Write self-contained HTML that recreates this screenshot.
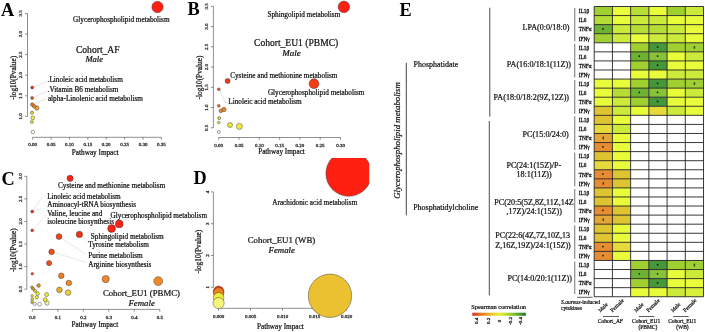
<!DOCTYPE html><html><head><meta charset="utf-8"><style>html,body{margin:0;padding:0;background:#fff;width:705px;height:332px;overflow:hidden}svg{display:block;will-change:transform}text{font-family:"Liberation Serif",serif}</style></head><body>
<svg width="705" height="332" viewBox="0 0 705 332">
<rect width="705" height="332" fill="#fff"/>
<text x="1" y="15.9" font-size="18.3" text-anchor="start" font-weight="bold" fill="#000" stroke="#000" stroke-width="0">A</text>
<line x1="27.5" y1="13.400000000000006" x2="27.5" y2="116.4" stroke="#444" stroke-width="0.6"/>
<line x1="25.0" y1="116.4" x2="27.5" y2="116.4" stroke="#444" stroke-width="0.6"/>
<text x="21.8" y="116.4" font-size="5.0" text-anchor="middle" fill="#333" stroke="#333" stroke-width="0.32" transform="rotate(-90 21.8 116.4)">1.0</text>
<line x1="25.0" y1="95.80000000000001" x2="27.5" y2="95.80000000000001" stroke="#444" stroke-width="0.6"/>
<text x="21.8" y="95.80000000000001" font-size="5.0" text-anchor="middle" fill="#333" stroke="#333" stroke-width="0.32" transform="rotate(-90 21.8 95.80000000000001)">1.5</text>
<line x1="25.0" y1="75.2" x2="27.5" y2="75.2" stroke="#444" stroke-width="0.6"/>
<text x="21.8" y="75.2" font-size="5.0" text-anchor="middle" fill="#333" stroke="#333" stroke-width="0.32" transform="rotate(-90 21.8 75.2)">2.0</text>
<line x1="25.0" y1="54.6" x2="27.5" y2="54.6" stroke="#444" stroke-width="0.6"/>
<text x="21.8" y="54.6" font-size="5.0" text-anchor="middle" fill="#333" stroke="#333" stroke-width="0.32" transform="rotate(-90 21.8 54.6)">2.5</text>
<line x1="25.0" y1="34.0" x2="27.5" y2="34.0" stroke="#444" stroke-width="0.6"/>
<text x="21.8" y="34.0" font-size="5.0" text-anchor="middle" fill="#333" stroke="#333" stroke-width="0.32" transform="rotate(-90 21.8 34.0)">3.0</text>
<line x1="25.0" y1="13.400000000000006" x2="27.5" y2="13.400000000000006" stroke="#444" stroke-width="0.6"/>
<text x="21.8" y="13.400000000000006" font-size="5.0" text-anchor="middle" fill="#333" stroke="#333" stroke-width="0.32" transform="rotate(-90 21.8 13.400000000000006)">3.5</text>
<text x="15.6" y="77.8" font-size="7.3" text-anchor="middle" fill="#111" stroke="#111" stroke-width="0.22" transform="rotate(-90 15.6 77.8)">-log10(Pvalue)</text>
<line x1="32.6" y1="137.3" x2="161.39999999999998" y2="137.3" stroke="#444" stroke-width="0.6"/>
<line x1="32.6" y1="137.3" x2="32.6" y2="139.60000000000002" stroke="#444" stroke-width="0.6"/>
<text x="32.6" y="146.3" font-size="5.0" text-anchor="middle" fill="#333" stroke="#333" stroke-width="0.32">0.00</text>
<line x1="51.0" y1="137.3" x2="51.0" y2="139.60000000000002" stroke="#444" stroke-width="0.6"/>
<text x="51.0" y="146.3" font-size="5.0" text-anchor="middle" fill="#333" stroke="#333" stroke-width="0.32">0.05</text>
<line x1="69.4" y1="137.3" x2="69.4" y2="139.60000000000002" stroke="#444" stroke-width="0.6"/>
<text x="69.4" y="146.3" font-size="5.0" text-anchor="middle" fill="#333" stroke="#333" stroke-width="0.32">0.10</text>
<line x1="87.8" y1="137.3" x2="87.8" y2="139.60000000000002" stroke="#444" stroke-width="0.6"/>
<text x="87.8" y="146.3" font-size="5.0" text-anchor="middle" fill="#333" stroke="#333" stroke-width="0.32">0.15</text>
<line x1="106.19999999999999" y1="137.3" x2="106.19999999999999" y2="139.60000000000002" stroke="#444" stroke-width="0.6"/>
<text x="106.19999999999999" y="146.3" font-size="5.0" text-anchor="middle" fill="#333" stroke="#333" stroke-width="0.32">0.20</text>
<line x1="124.6" y1="137.3" x2="124.6" y2="139.60000000000002" stroke="#444" stroke-width="0.6"/>
<text x="124.6" y="146.3" font-size="5.0" text-anchor="middle" fill="#333" stroke="#333" stroke-width="0.32">0.25</text>
<line x1="143.0" y1="137.3" x2="143.0" y2="139.60000000000002" stroke="#444" stroke-width="0.6"/>
<text x="143.0" y="146.3" font-size="5.0" text-anchor="middle" fill="#333" stroke="#333" stroke-width="0.32">0.30</text>
<line x1="161.39999999999998" y1="137.3" x2="161.39999999999998" y2="139.60000000000002" stroke="#444" stroke-width="0.6"/>
<text x="161.39999999999998" y="146.3" font-size="5.0" text-anchor="middle" fill="#333" stroke="#333" stroke-width="0.32">0.35</text>
<text x="95.2" y="155.0" font-size="7.22" text-anchor="middle" fill="#111" stroke="#111" stroke-width="0.22">Pathway Impact</text>
<line x1="32.2" y1="87.5" x2="47.6" y2="81.2" stroke="#bbb" stroke-width="0.4"/>
<line x1="32.1" y1="97.9" x2="47.6" y2="90.8" stroke="#bbb" stroke-width="0.4"/>
<line x1="33" y1="104" x2="46.8" y2="98.6" stroke="#bbb" stroke-width="0.4"/>
<circle cx="157.5" cy="7" r="5.7" fill="#FE2112" stroke="#333" stroke-width="0.45"/>
<circle cx="32.8" cy="132" r="1.8" fill="#FAFAE0" stroke="#333" stroke-width="0.45"/>
<circle cx="31.9" cy="122" r="1.5" fill="#F2EC38" stroke="#333" stroke-width="0.45"/>
<circle cx="32.8" cy="117.8" r="1.9" fill="#F2EC38" stroke="#333" stroke-width="0.45"/>
<circle cx="32" cy="112.7" r="1.6" fill="#EAD234" stroke="#333" stroke-width="0.45"/>
<circle cx="36.8" cy="108" r="2.2" fill="#F2A22C" stroke="#333" stroke-width="0.45"/>
<circle cx="34.2" cy="106.3" r="1.8" fill="#F08A28" stroke="#333" stroke-width="0.45"/>
<circle cx="32.2" cy="104.5" r="1.7" fill="#EE7424" stroke="#333" stroke-width="0.45"/>
<circle cx="32.1" cy="97.9" r="1.5" fill="#EE5520" stroke="#333" stroke-width="0.45"/>
<circle cx="32.2" cy="87.5" r="1.5" fill="#F2361A" stroke="#333" stroke-width="0.45"/>
<text x="73.1" y="21.7" font-size="7.22" text-anchor="start" fill="#111" stroke="#111" stroke-width="0.22">Glycerophospholipid metabolism</text>
<text x="75.9" y="52.6" font-size="9.6" text-anchor="start" fill="#111" stroke="#111" stroke-width="0.22">Cohort_AF</text>
<text x="85.4" y="62.3" font-size="8.6" text-anchor="start" font-style="italic" fill="#111" stroke="#111" stroke-width="0.22">Male</text>
<text x="47.6" y="82.3" font-size="7.22" text-anchor="start" fill="#111" stroke="#111" stroke-width="0.22">.Linoleic acid metabolism</text>
<text x="47.6" y="91.8" font-size="7.22" text-anchor="start" fill="#111" stroke="#111" stroke-width="0.22">.Vitamin B6 metabolism</text>
<text x="47.9" y="100.6" font-size="7.22" text-anchor="start" fill="#111" stroke="#111" stroke-width="0.22">alpha-Linolenic acid metabolism</text>
<text x="187.5" y="15.4" font-size="18.3" text-anchor="start" font-weight="bold" fill="#000" stroke="#000" stroke-width="0">B</text>
<line x1="213.4" y1="6.299999999999997" x2="213.4" y2="127.8" stroke="#444" stroke-width="0.6"/>
<line x1="210.9" y1="127.8" x2="213.4" y2="127.8" stroke="#444" stroke-width="0.6"/>
<text x="207.8" y="127.8" font-size="5.0" text-anchor="middle" fill="#333" stroke="#333" stroke-width="0.32" transform="rotate(-90 207.8 127.8)">0.5</text>
<line x1="210.9" y1="107.55" x2="213.4" y2="107.55" stroke="#444" stroke-width="0.6"/>
<text x="207.8" y="107.55" font-size="5.0" text-anchor="middle" fill="#333" stroke="#333" stroke-width="0.32" transform="rotate(-90 207.8 107.55)">1.0</text>
<line x1="210.9" y1="87.3" x2="213.4" y2="87.3" stroke="#444" stroke-width="0.6"/>
<text x="207.8" y="87.3" font-size="5.0" text-anchor="middle" fill="#333" stroke="#333" stroke-width="0.32" transform="rotate(-90 207.8 87.3)">1.5</text>
<line x1="210.9" y1="67.05" x2="213.4" y2="67.05" stroke="#444" stroke-width="0.6"/>
<text x="207.8" y="67.05" font-size="5.0" text-anchor="middle" fill="#333" stroke="#333" stroke-width="0.32" transform="rotate(-90 207.8 67.05)">2.0</text>
<line x1="210.9" y1="46.8" x2="213.4" y2="46.8" stroke="#444" stroke-width="0.6"/>
<text x="207.8" y="46.8" font-size="5.0" text-anchor="middle" fill="#333" stroke="#333" stroke-width="0.32" transform="rotate(-90 207.8 46.8)">2.5</text>
<line x1="210.9" y1="26.549999999999997" x2="213.4" y2="26.549999999999997" stroke="#444" stroke-width="0.6"/>
<text x="207.8" y="26.549999999999997" font-size="5.0" text-anchor="middle" fill="#333" stroke="#333" stroke-width="0.32" transform="rotate(-90 207.8 26.549999999999997)">3.0</text>
<line x1="210.9" y1="6.299999999999997" x2="213.4" y2="6.299999999999997" stroke="#444" stroke-width="0.6"/>
<text x="207.8" y="6.299999999999997" font-size="5.0" text-anchor="middle" fill="#333" stroke="#333" stroke-width="0.32" transform="rotate(-90 207.8 6.299999999999997)">3.5</text>
<text x="201.6" y="77.5" font-size="7.3" text-anchor="middle" fill="#111" stroke="#111" stroke-width="0.22" transform="rotate(-90 201.6 77.5)">-log10(Pvalue)</text>
<line x1="218.7" y1="137.5" x2="340.5" y2="137.5" stroke="#444" stroke-width="0.6"/>
<line x1="218.7" y1="137.5" x2="218.7" y2="139.8" stroke="#444" stroke-width="0.6"/>
<text x="218.7" y="146.9" font-size="5.0" text-anchor="middle" fill="#333" stroke="#333" stroke-width="0.32">0.00</text>
<line x1="239.0" y1="137.5" x2="239.0" y2="139.8" stroke="#444" stroke-width="0.6"/>
<text x="239.0" y="146.9" font-size="5.0" text-anchor="middle" fill="#333" stroke="#333" stroke-width="0.32">0.05</text>
<line x1="259.3" y1="137.5" x2="259.3" y2="139.8" stroke="#444" stroke-width="0.6"/>
<text x="259.3" y="146.9" font-size="5.0" text-anchor="middle" fill="#333" stroke="#333" stroke-width="0.32">0.10</text>
<line x1="279.6" y1="137.5" x2="279.6" y2="139.8" stroke="#444" stroke-width="0.6"/>
<text x="279.6" y="146.9" font-size="5.0" text-anchor="middle" fill="#333" stroke="#333" stroke-width="0.32">0.15</text>
<line x1="299.9" y1="137.5" x2="299.9" y2="139.8" stroke="#444" stroke-width="0.6"/>
<text x="299.9" y="146.9" font-size="5.0" text-anchor="middle" fill="#333" stroke="#333" stroke-width="0.32">0.20</text>
<line x1="320.2" y1="137.5" x2="320.2" y2="139.8" stroke="#444" stroke-width="0.6"/>
<text x="320.2" y="146.9" font-size="5.0" text-anchor="middle" fill="#333" stroke="#333" stroke-width="0.32">0.25</text>
<line x1="340.5" y1="137.5" x2="340.5" y2="139.8" stroke="#444" stroke-width="0.6"/>
<text x="340.5" y="146.9" font-size="5.0" text-anchor="middle" fill="#333" stroke="#333" stroke-width="0.32">0.30</text>
<text x="281.5" y="154.4" font-size="7.22" text-anchor="middle" fill="#111" stroke="#111" stroke-width="0.22">Pathway Impact</text>
<line x1="219.8" y1="91.0" x2="225.4" y2="102.2" stroke="#bbb" stroke-width="0.4"/>
<circle cx="343.9" cy="6.9" r="5.8" fill="#FE2112" stroke="#333" stroke-width="0.45"/>
<circle cx="314" cy="83.7" r="4.9" fill="#F23A14" stroke="#333" stroke-width="0.45"/>
<circle cx="218.8" cy="131.9" r="1.5" fill="#FAFAE0" stroke="#333" stroke-width="0.45"/>
<circle cx="239.4" cy="126.4" r="3" fill="#F2EC38" stroke="#333" stroke-width="0.45"/>
<circle cx="230" cy="125" r="2.5" fill="#F2EC38" stroke="#333" stroke-width="0.45"/>
<circle cx="218.8" cy="122.5" r="1.3" fill="#F2EC38" stroke="#333" stroke-width="0.45"/>
<circle cx="219.2" cy="118.1" r="1.5" fill="#F0C834" stroke="#333" stroke-width="0.45"/>
<circle cx="223.9" cy="109.5" r="2.2" fill="#F08A28" stroke="#333" stroke-width="0.45"/>
<circle cx="220.8" cy="110.9" r="1.8" fill="#F08A28" stroke="#333" stroke-width="0.45"/>
<circle cx="218.8" cy="105.8" r="1.4" fill="#EE6A22" stroke="#333" stroke-width="0.45"/>
<circle cx="218.8" cy="89.3" r="1.4" fill="#EE5520" stroke="#333" stroke-width="0.45"/>
<circle cx="227.6" cy="80.9" r="2.5" fill="#F2361A" stroke="#333" stroke-width="0.45"/>
<text x="267.5" y="16.6" font-size="7.22" text-anchor="start" fill="#111" stroke="#111" stroke-width="0.22">Sphingolipid metabolism</text>
<text x="254" y="45.8" font-size="9.57" text-anchor="start" fill="#111" stroke="#111" stroke-width="0.22">Cohort_EU1 (PBMC)</text>
<text x="282.3" y="55.8" font-size="9.0" text-anchor="start" font-style="italic" fill="#111" stroke="#111" stroke-width="0.22">Male</text>
<text x="230.2" y="77.7" font-size="7.22" text-anchor="start" fill="#111" stroke="#111" stroke-width="0.22">Cysteine and methionine metabolism</text>
<text x="267.9" y="94.8" font-size="7.22" text-anchor="start" fill="#111" stroke="#111" stroke-width="0.22">Glycerophospholipid metabolism</text>
<text x="228.3" y="104.2" font-size="7.22" text-anchor="start" fill="#111" stroke="#111" stroke-width="0.22">Linoleic acid metabolism</text>
<circle cx="225.4" cy="102.4" r="0.45" fill="#666"/>
<text x="1.4" y="184.9" font-size="18.3" text-anchor="start" font-weight="bold" fill="#000" stroke="#000" stroke-width="0">C</text>
<line x1="26.8" y1="176.3" x2="26.8" y2="289.2" stroke="#444" stroke-width="0.6"/>
<line x1="24.3" y1="289.2" x2="26.8" y2="289.2" stroke="#444" stroke-width="0.6"/>
<text x="21.6" y="289.2" font-size="5.0" text-anchor="middle" fill="#333" stroke="#333" stroke-width="0.32" transform="rotate(-90 21.6 289.2)">0.5</text>
<line x1="24.3" y1="266.62" x2="26.8" y2="266.62" stroke="#444" stroke-width="0.6"/>
<text x="21.6" y="266.62" font-size="5.0" text-anchor="middle" fill="#333" stroke="#333" stroke-width="0.32" transform="rotate(-90 21.6 266.62)">1.0</text>
<line x1="24.3" y1="244.04" x2="26.8" y2="244.04" stroke="#444" stroke-width="0.6"/>
<text x="21.6" y="244.04" font-size="5.0" text-anchor="middle" fill="#333" stroke="#333" stroke-width="0.32" transform="rotate(-90 21.6 244.04)">1.5</text>
<line x1="24.3" y1="221.45999999999998" x2="26.8" y2="221.45999999999998" stroke="#444" stroke-width="0.6"/>
<text x="21.6" y="221.45999999999998" font-size="5.0" text-anchor="middle" fill="#333" stroke="#333" stroke-width="0.32" transform="rotate(-90 21.6 221.45999999999998)">2.0</text>
<line x1="24.3" y1="198.88" x2="26.8" y2="198.88" stroke="#444" stroke-width="0.6"/>
<text x="21.6" y="198.88" font-size="5.0" text-anchor="middle" fill="#333" stroke="#333" stroke-width="0.32" transform="rotate(-90 21.6 198.88)">2.5</text>
<line x1="24.3" y1="176.3" x2="26.8" y2="176.3" stroke="#444" stroke-width="0.6"/>
<text x="21.6" y="176.3" font-size="5.0" text-anchor="middle" fill="#333" stroke="#333" stroke-width="0.32" transform="rotate(-90 21.6 176.3)">3.0</text>
<text x="15.6" y="250.2" font-size="7.3" text-anchor="middle" fill="#111" stroke="#111" stroke-width="0.22" transform="rotate(-90 15.6 250.2)">-log10(Pvalue)</text>
<line x1="32.3" y1="309.4" x2="159.8" y2="309.4" stroke="#444" stroke-width="0.6"/>
<line x1="32.3" y1="309.4" x2="32.3" y2="311.7" stroke="#444" stroke-width="0.6"/>
<text x="32.3" y="318.6" font-size="5.0" text-anchor="middle" fill="#333" stroke="#333" stroke-width="0.32">0.0</text>
<line x1="57.8" y1="309.4" x2="57.8" y2="311.7" stroke="#444" stroke-width="0.6"/>
<text x="57.8" y="318.6" font-size="5.0" text-anchor="middle" fill="#333" stroke="#333" stroke-width="0.32">0.1</text>
<line x1="83.3" y1="309.4" x2="83.3" y2="311.7" stroke="#444" stroke-width="0.6"/>
<text x="83.3" y="318.6" font-size="5.0" text-anchor="middle" fill="#333" stroke="#333" stroke-width="0.32">0.2</text>
<line x1="108.8" y1="309.4" x2="108.8" y2="311.7" stroke="#444" stroke-width="0.6"/>
<text x="108.8" y="318.6" font-size="5.0" text-anchor="middle" fill="#333" stroke="#333" stroke-width="0.32">0.3</text>
<line x1="134.3" y1="309.4" x2="134.3" y2="311.7" stroke="#444" stroke-width="0.6"/>
<text x="134.3" y="318.6" font-size="5.0" text-anchor="middle" fill="#333" stroke="#333" stroke-width="0.32">0.4</text>
<line x1="159.8" y1="309.4" x2="159.8" y2="311.7" stroke="#444" stroke-width="0.6"/>
<text x="159.8" y="318.6" font-size="5.0" text-anchor="middle" fill="#333" stroke="#333" stroke-width="0.32">0.5</text>
<text x="94.9" y="327.1" font-size="7.22" text-anchor="middle" fill="#111" stroke="#111" stroke-width="0.22">Pathway Impact</text>
<line x1="32.2" y1="211.6" x2="42.8" y2="196.3" stroke="#c4c4c4" stroke-width="0.4"/>
<line x1="32.2" y1="211.6" x2="41.6" y2="208.3" stroke="#c4c4c4" stroke-width="0.4"/>
<line x1="32.2" y1="230.4" x2="46.1" y2="214.7" stroke="#c4c4c4" stroke-width="0.4"/>
<line x1="79.4" y1="234.4" x2="87.5" y2="243" stroke="#c4c4c4" stroke-width="0.4"/>
<line x1="59" y1="236.6" x2="86" y2="254.5" stroke="#c4c4c4" stroke-width="0.4"/>
<line x1="51.6" y1="251.8" x2="86.5" y2="262.5" stroke="#c4c4c4" stroke-width="0.4"/>
<line x1="111.6" y1="228.5" x2="128" y2="218" stroke="#c4c4c4" stroke-width="0.4"/>
<circle cx="47" cy="303" r="2.2" fill="#F4F4A8" stroke="#333" stroke-width="0.45"/>
<circle cx="45.2" cy="299.7" r="2" fill="#F2EC38" stroke="#333" stroke-width="0.45"/>
<circle cx="46.6" cy="294.6" r="2" fill="#F2EC38" stroke="#333" stroke-width="0.45"/>
<circle cx="39.6" cy="304.2" r="1.9" fill="#FFFFFF" stroke="#333" stroke-width="0.45"/>
<circle cx="34.8" cy="303.9" r="1.6" fill="#FFFFFF" stroke="#333" stroke-width="0.45"/>
<circle cx="32.2" cy="302.6" r="1.2" fill="#F2EC38" stroke="#333" stroke-width="0.45"/>
<circle cx="32.1" cy="301.2" r="1.2" fill="#F2EC38" stroke="#333" stroke-width="0.45"/>
<circle cx="32.3" cy="299" r="1.3" fill="#F2EC38" stroke="#333" stroke-width="0.45"/>
<circle cx="32.1" cy="295.8" r="1.3" fill="#F2EC38" stroke="#333" stroke-width="0.45"/>
<circle cx="36.8" cy="297.3" r="1.7" fill="#F2EC38" stroke="#333" stroke-width="0.45"/>
<circle cx="37.6" cy="293.6" r="1.8" fill="#F2EC38" stroke="#333" stroke-width="0.45"/>
<circle cx="35" cy="290.8" r="1.6" fill="#F0C834" stroke="#333" stroke-width="0.45"/>
<circle cx="33" cy="288.6" r="1.5" fill="#F2A22C" stroke="#333" stroke-width="0.45"/>
<circle cx="31.9" cy="287.2" r="1.3" fill="#F2A22C" stroke="#333" stroke-width="0.45"/>
<circle cx="68.1" cy="292.6" r="2.8" fill="#F0D034" stroke="#333" stroke-width="0.45"/>
<circle cx="59.4" cy="289.9" r="2.8" fill="#EEB02C" stroke="#333" stroke-width="0.45"/>
<circle cx="38.6" cy="285.6" r="1.8" fill="#F08A28" stroke="#333" stroke-width="0.45"/>
<circle cx="68.8" cy="283" r="2.8" fill="#F08A28" stroke="#333" stroke-width="0.45"/>
<circle cx="158.2" cy="281.1" r="4.4" fill="#F08A28" stroke="#333" stroke-width="0.45"/>
<circle cx="105.7" cy="279.1" r="3.6" fill="#F08A28" stroke="#333" stroke-width="0.45"/>
<circle cx="61.3" cy="275.7" r="2.8" fill="#EE7A26" stroke="#333" stroke-width="0.45"/>
<circle cx="32.3" cy="273.8" r="1.3" fill="#EE5520" stroke="#333" stroke-width="0.45"/>
<circle cx="49.1" cy="263.1" r="2.6" fill="#EE501A" stroke="#333" stroke-width="0.45"/>
<circle cx="51.6" cy="251.8" r="2.8" fill="#EE4A1A" stroke="#333" stroke-width="0.45"/>
<circle cx="59" cy="236.6" r="2.9" fill="#EE4218" stroke="#333" stroke-width="0.45"/>
<circle cx="79.4" cy="234.4" r="3.2" fill="#EE3314" stroke="#333" stroke-width="0.45"/>
<circle cx="32.2" cy="230.4" r="1.4" fill="#F2361A" stroke="#333" stroke-width="0.45"/>
<circle cx="32.2" cy="211.6" r="1.5" fill="#F2361A" stroke="#333" stroke-width="0.45"/>
<circle cx="111.6" cy="228.5" r="3.9" fill="#FE2112" stroke="#333" stroke-width="0.45"/>
<circle cx="119.2" cy="223.9" r="3.9" fill="#FE2112" stroke="#333" stroke-width="0.45"/>
<circle cx="70.1" cy="178.3" r="3.1" fill="#FE2112" stroke="#333" stroke-width="0.45"/>
<text x="58" y="188.0" font-size="7.22" text-anchor="start" fill="#111" stroke="#111" stroke-width="0.22">Cysteine and methionine metabolism</text>
<text x="47.2" y="198.5" font-size="7.22" text-anchor="start" fill="#111" stroke="#111" stroke-width="0.22">Linoleic acid metabolism</text>
<text x="47.2" y="207.3" font-size="7.22" text-anchor="start" fill="#111" stroke="#111" stroke-width="0.22">Aminoacyl-tRNA biosynthesis</text>
<text x="47.2" y="215.6" font-size="7.22" text-anchor="start" fill="#111" stroke="#111" stroke-width="0.22">Valine, leucine and</text>
<text x="47.2" y="224.4" font-size="7.22" text-anchor="start" fill="#111" stroke="#111" stroke-width="0.22">isoleucine biosynthesis</text>
<text x="110.6" y="217.5" font-size="7.22" text-anchor="start" fill="#111" stroke="#111" stroke-width="0.22">Glycerophospholipid metabolism</text>
<text x="90.8" y="238.9" font-size="7.22" text-anchor="start" fill="#111" stroke="#111" stroke-width="0.22">Sphingolipid metabolism</text>
<text x="88.3" y="247.2" font-size="7.22" text-anchor="start" fill="#111" stroke="#111" stroke-width="0.22">Tyrosine metabolism</text>
<text x="88.3" y="258.0" font-size="7.22" text-anchor="start" fill="#111" stroke="#111" stroke-width="0.22">Purine metabolism</text>
<text x="88.3" y="266.8" font-size="7.22" text-anchor="start" fill="#111" stroke="#111" stroke-width="0.22">Arginine biosynthesis</text>
<text x="102.9" y="296" font-size="8.75" text-anchor="start" fill="#111" stroke="#111" stroke-width="0.22">Cohort_EU1 (PBMC)</text>
<text x="128.4" y="305.5" font-size="8.85" text-anchor="start" font-style="italic" fill="#111" stroke="#111" stroke-width="0.22">Female</text>
<text x="193.6" y="184.3" font-size="18.3" text-anchor="start" font-weight="bold" fill="#000" stroke="#000" stroke-width="0">D</text>
<line x1="213.4" y1="191.9" x2="213.4" y2="287.3" stroke="#444" stroke-width="0.6"/>
<line x1="210.9" y1="287.3" x2="213.4" y2="287.3" stroke="#444" stroke-width="0.6"/>
<text x="209.3" y="287.3" font-size="5.0" text-anchor="middle" fill="#333" stroke="#333" stroke-width="0.32" transform="rotate(-90 209.3 287.3)">1</text>
<line x1="210.9" y1="255.5" x2="213.4" y2="255.5" stroke="#444" stroke-width="0.6"/>
<text x="209.3" y="255.5" font-size="5.0" text-anchor="middle" fill="#333" stroke="#333" stroke-width="0.32" transform="rotate(-90 209.3 255.5)">2</text>
<line x1="210.9" y1="223.70000000000002" x2="213.4" y2="223.70000000000002" stroke="#444" stroke-width="0.6"/>
<text x="209.3" y="223.70000000000002" font-size="5.0" text-anchor="middle" fill="#333" stroke="#333" stroke-width="0.32" transform="rotate(-90 209.3 223.70000000000002)">3</text>
<line x1="210.9" y1="191.9" x2="213.4" y2="191.9" stroke="#444" stroke-width="0.6"/>
<text x="209.3" y="191.9" font-size="5.0" text-anchor="middle" fill="#333" stroke="#333" stroke-width="0.32" transform="rotate(-90 209.3 191.9)">4</text>
<text x="201.5" y="251.6" font-size="7.3" text-anchor="middle" fill="#111" stroke="#111" stroke-width="0.22" transform="rotate(-90 201.5 251.6)">-log10(Pvalue)</text>
<line x1="218.5" y1="308.3" x2="346.5" y2="308.3" stroke="#444" stroke-width="0.6"/>
<line x1="218.5" y1="308.3" x2="218.5" y2="310.6" stroke="#444" stroke-width="0.6"/>
<text x="218.5" y="318.3" font-size="5.0" text-anchor="middle" fill="#333" stroke="#333" stroke-width="0.32">0.000</text>
<line x1="250.5" y1="308.3" x2="250.5" y2="310.6" stroke="#444" stroke-width="0.6"/>
<text x="250.5" y="318.3" font-size="5.0" text-anchor="middle" fill="#333" stroke="#333" stroke-width="0.32">0.005</text>
<line x1="282.5" y1="308.3" x2="282.5" y2="310.6" stroke="#444" stroke-width="0.6"/>
<text x="282.5" y="318.3" font-size="5.0" text-anchor="middle" fill="#333" stroke="#333" stroke-width="0.32">0.010</text>
<line x1="314.5" y1="308.3" x2="314.5" y2="310.6" stroke="#444" stroke-width="0.6"/>
<text x="314.5" y="318.3" font-size="5.0" text-anchor="middle" fill="#333" stroke="#333" stroke-width="0.32">0.015</text>
<line x1="346.5" y1="308.3" x2="346.5" y2="310.6" stroke="#444" stroke-width="0.6"/>
<text x="346.5" y="318.3" font-size="5.0" text-anchor="middle" fill="#333" stroke="#333" stroke-width="0.32">0.020</text>
<text x="280.4" y="328.5" font-size="7.22" text-anchor="middle" fill="#111" stroke="#111" stroke-width="0.22">Pathway Impact</text>
<clipPath id="dclip"><rect x="213" y="158.1" width="156.2" height="160"/></clipPath>
<g clip-path="url(#dclip)">
<circle cx="348.7" cy="173.5" r="22.8" fill="#FE2112" stroke="#333" stroke-width="0.45"/>
</g>
<circle cx="330" cy="295.8" r="21.7" fill="#EBC132" stroke="#333" stroke-width="0.45"/>
<circle cx="218.6" cy="291.3" r="5.3" fill="#EE3A16" stroke="#333" stroke-width="0.45"/>
<circle cx="218.6" cy="292.9" r="5.3" fill="#F0801E" stroke="#333" stroke-width="0.45"/>
<circle cx="218.6" cy="297.8" r="5.3" fill="#F0EC38" stroke="#333" stroke-width="0.45"/>
<circle cx="218.6" cy="303.1" r="5.6" fill="#F4F47A" stroke="#333" stroke-width="0.45"/>
<text x="272.3" y="204.5" font-size="7.22" text-anchor="start" fill="#111" stroke="#111" stroke-width="0.22">Arachidonic acid metabolism</text>
<text x="247.7" y="242.7" font-size="8.86" text-anchor="start" fill="#111" stroke="#111" stroke-width="0.22">Cohort_EU1 (WB)</text>
<text x="268.6" y="252.7" font-size="8.8" text-anchor="start" font-style="italic" fill="#111" stroke="#111" stroke-width="0.22">Female</text>
<text x="399.4" y="15.7" font-size="18.3" text-anchor="start" font-weight="bold" fill="#000" stroke="#000" stroke-width="0">E</text>
<text x="399.7" y="140.5" font-size="8.8" text-anchor="middle" font-style="italic" fill="#111" stroke="#111" stroke-width="0.22" transform="rotate(-90 399.7 140.5)">Glycerophospholipid metabolism</text>
<line x1="406.3" y1="62.9" x2="406.3" y2="215.4" stroke="#222" stroke-width="0.85"/>
<text x="413.5" y="66.7" font-size="7.97" text-anchor="start" fill="#111" stroke="#111" stroke-width="0.22">Phosphatidate</text>
<text x="413.2" y="210.4" font-size="7.97" text-anchor="start" fill="#111" stroke="#111" stroke-width="0.22">Phosphatidylcholine</text>
<line x1="489.8" y1="7.7" x2="489.8" y2="116.6" stroke="#3a3a3a" stroke-width="0.9"/>
<line x1="489.3" y1="121" x2="489.3" y2="295.4" stroke="#3a3a3a" stroke-width="0.9"/>
<text x="522.5" y="29.8" font-size="8.1" text-anchor="start" fill="#111" stroke="#111" stroke-width="0.22">LPA(0:0/18:0)</text>
<text x="506.8" y="66.5" font-size="8.1" text-anchor="start" fill="#111" stroke="#111" stroke-width="0.22">PA(16:0/18:1(11Z))</text>
<text x="493.6" y="100.2" font-size="8.1" text-anchor="start" fill="#111" stroke="#111" stroke-width="0.22">PA(18:0/18:2(9Z,12Z))</text>
<text x="522.5" y="137" font-size="8.1" text-anchor="start" fill="#111" stroke="#111" stroke-width="0.22">PC(15:0/24:0)</text>
<text x="506.4" y="167.7" font-size="8.1" text-anchor="start" fill="#111" stroke="#111" stroke-width="0.22">PC(24:1(15Z)/P-</text>
<text x="516.5" y="176.9" font-size="8.1" text-anchor="start" fill="#111" stroke="#111" stroke-width="0.22">18:1(11Z))</text>
<text x="494.3" y="204.7" font-size="8.1" text-anchor="start" fill="#111" stroke="#111" stroke-width="0.22">PC(20:5(5Z,8Z,11Z,14Z</text>
<text x="506.4" y="213.9" font-size="8.1" text-anchor="start" fill="#111" stroke="#111" stroke-width="0.22">,17Z)/24:1(15Z))</text>
<text x="495.3" y="238.4" font-size="8.1" text-anchor="start" fill="#111" stroke="#111" stroke-width="0.22">PC(22:6(4Z,7Z,10Z,13</text>
<text x="495.3" y="248" font-size="8.1" text-anchor="start" fill="#111" stroke="#111" stroke-width="0.22">Z,16Z,19Z)/24:1(15Z))</text>
<text x="507.4" y="281" font-size="8.1" text-anchor="start" fill="#111" stroke="#111" stroke-width="0.22">PC(14:0/20:1(11Z))</text>
<line x1="574.7" y1="8.1" x2="574.7" y2="41.18" stroke="#8a8a8a" stroke-width="1.2"/>
<line x1="574.7" y1="43.78" x2="574.7" y2="77.46000000000001" stroke="#8a8a8a" stroke-width="1.2"/>
<line x1="574.7" y1="80.06" x2="574.7" y2="113.74000000000001" stroke="#8a8a8a" stroke-width="1.2"/>
<line x1="574.7" y1="116.34" x2="574.7" y2="150.02" stroke="#8a8a8a" stroke-width="1.2"/>
<line x1="574.7" y1="152.62" x2="574.7" y2="186.3" stroke="#8a8a8a" stroke-width="1.2"/>
<line x1="574.7" y1="188.9" x2="574.7" y2="222.58" stroke="#8a8a8a" stroke-width="1.2"/>
<line x1="574.7" y1="225.18" x2="574.7" y2="258.86" stroke="#8a8a8a" stroke-width="1.2"/>
<line x1="574.7" y1="261.46000000000004" x2="574.7" y2="293.94" stroke="#8a8a8a" stroke-width="1.2"/>
<text x="578.8" y="13.3" font-size="5.3" text-anchor="start" fill="#111" stroke="#111" stroke-width="0.26">IL1β</text>
<text x="578.8" y="22.37" font-size="5.3" text-anchor="start" fill="#111" stroke="#111" stroke-width="0.26">IL6</text>
<text x="578.8" y="31.44" font-size="5.3" text-anchor="start" fill="#111" stroke="#111" stroke-width="0.26">TNFα</text>
<text x="578.8" y="40.51" font-size="5.3" text-anchor="start" fill="#111" stroke="#111" stroke-width="0.26">IFNγ</text>
<text x="578.8" y="49.58" font-size="5.3" text-anchor="start" fill="#111" stroke="#111" stroke-width="0.26">IL1β</text>
<text x="578.8" y="58.65" font-size="5.3" text-anchor="start" fill="#111" stroke="#111" stroke-width="0.26">IL6</text>
<text x="578.8" y="67.72" font-size="5.3" text-anchor="start" fill="#111" stroke="#111" stroke-width="0.26">TNFα</text>
<text x="578.8" y="76.79" font-size="5.3" text-anchor="start" fill="#111" stroke="#111" stroke-width="0.26">IFNγ</text>
<text x="578.8" y="85.86" font-size="5.3" text-anchor="start" fill="#111" stroke="#111" stroke-width="0.26">IL1β</text>
<text x="578.8" y="94.92999999999999" font-size="5.3" text-anchor="start" fill="#111" stroke="#111" stroke-width="0.26">IL6</text>
<text x="578.8" y="104.0" font-size="5.3" text-anchor="start" fill="#111" stroke="#111" stroke-width="0.26">TNFα</text>
<text x="578.8" y="113.07000000000001" font-size="5.3" text-anchor="start" fill="#111" stroke="#111" stroke-width="0.26">IFNγ</text>
<text x="578.8" y="122.14" font-size="5.3" text-anchor="start" fill="#111" stroke="#111" stroke-width="0.26">IL1β</text>
<text x="578.8" y="131.21" font-size="5.3" text-anchor="start" fill="#111" stroke="#111" stroke-width="0.26">IL6</text>
<text x="578.8" y="140.28000000000003" font-size="5.3" text-anchor="start" fill="#111" stroke="#111" stroke-width="0.26">TNFα</text>
<text x="578.8" y="149.35000000000002" font-size="5.3" text-anchor="start" fill="#111" stroke="#111" stroke-width="0.26">IFNγ</text>
<text x="578.8" y="158.42000000000002" font-size="5.3" text-anchor="start" fill="#111" stroke="#111" stroke-width="0.26">IL1β</text>
<text x="578.8" y="167.49" font-size="5.3" text-anchor="start" fill="#111" stroke="#111" stroke-width="0.26">IL6</text>
<text x="578.8" y="176.56" font-size="5.3" text-anchor="start" fill="#111" stroke="#111" stroke-width="0.26">TNFα</text>
<text x="578.8" y="185.63000000000002" font-size="5.3" text-anchor="start" fill="#111" stroke="#111" stroke-width="0.26">IFNγ</text>
<text x="578.8" y="194.70000000000002" font-size="5.3" text-anchor="start" fill="#111" stroke="#111" stroke-width="0.26">IL1β</text>
<text x="578.8" y="203.77" font-size="5.3" text-anchor="start" fill="#111" stroke="#111" stroke-width="0.26">IL6</text>
<text x="578.8" y="212.84000000000003" font-size="5.3" text-anchor="start" fill="#111" stroke="#111" stroke-width="0.26">TNFα</text>
<text x="578.8" y="221.91000000000003" font-size="5.3" text-anchor="start" fill="#111" stroke="#111" stroke-width="0.26">IFNγ</text>
<text x="578.8" y="230.98000000000002" font-size="5.3" text-anchor="start" fill="#111" stroke="#111" stroke-width="0.26">IL1β</text>
<text x="578.8" y="240.05" font-size="5.3" text-anchor="start" fill="#111" stroke="#111" stroke-width="0.26">IL6</text>
<text x="578.8" y="249.12" font-size="5.3" text-anchor="start" fill="#111" stroke="#111" stroke-width="0.26">TNFα</text>
<text x="578.8" y="258.19" font-size="5.3" text-anchor="start" fill="#111" stroke="#111" stroke-width="0.26">IFNγ</text>
<text x="578.8" y="267.26000000000005" font-size="5.3" text-anchor="start" fill="#111" stroke="#111" stroke-width="0.26">IL1β</text>
<text x="578.8" y="276.33000000000004" font-size="5.3" text-anchor="start" fill="#111" stroke="#111" stroke-width="0.26">IL6</text>
<text x="578.8" y="285.40000000000003" font-size="5.3" text-anchor="start" fill="#111" stroke="#111" stroke-width="0.26">TNFα</text>
<text x="578.8" y="294.47" font-size="5.3" text-anchor="start" fill="#111" stroke="#111" stroke-width="0.26">IFNγ</text>
<line x1="577.2" y1="297.3" x2="592.6" y2="297.3" stroke="#333" stroke-width="0.8"/>
<text x="561" y="303.9" font-size="5.65" fill="#111" stroke="#111" stroke-width="0.22"><tspan font-style="italic">S.aureus</tspan>-induced</text>
<text x="561" y="310.4" font-size="5.45" text-anchor="start" fill="#111" stroke="#111" stroke-width="0.22">cytokines</text>
<rect x="594.20" y="6.50" width="18.22" height="9.07" fill="#A0D030"/>
<rect x="612.42" y="6.50" width="18.22" height="9.07" fill="#E8FC3A"/>
<rect x="630.64" y="6.50" width="18.22" height="9.07" fill="#B6DC36"/>
<rect x="648.86" y="6.50" width="18.22" height="9.07" fill="#E8FC3A"/>
<rect x="667.08" y="6.50" width="18.22" height="9.07" fill="#A0D030"/>
<rect x="685.30" y="6.50" width="18.22" height="9.07" fill="#CCEA3A"/>
<rect x="594.20" y="15.57" width="18.22" height="9.07" fill="#B6DC36"/>
<rect x="612.42" y="15.57" width="18.22" height="9.07" fill="#E8FC3A"/>
<rect x="630.64" y="15.57" width="18.22" height="9.07" fill="#CCEA3A"/>
<rect x="648.86" y="15.57" width="18.22" height="9.07" fill="#CCEA3A"/>
<rect x="667.08" y="15.57" width="18.22" height="9.07" fill="#E8FC3A"/>
<rect x="685.30" y="15.57" width="18.22" height="9.07" fill="#E8FC3A"/>
<rect x="594.20" y="24.64" width="18.22" height="9.07" fill="#6EB232"/>
<rect x="612.42" y="24.64" width="18.22" height="9.07" fill="#CCEA3A"/>
<rect x="630.64" y="24.64" width="18.22" height="9.07" fill="#B6DC36"/>
<rect x="648.86" y="24.64" width="18.22" height="9.07" fill="#B6DC36"/>
<rect x="667.08" y="24.64" width="18.22" height="9.07" fill="#CCEA3A"/>
<rect x="685.30" y="24.64" width="18.22" height="9.07" fill="#E8FC3A"/>
<rect x="594.20" y="33.71" width="18.22" height="9.07" fill="#A0D030"/>
<rect x="612.42" y="33.71" width="18.22" height="9.07" fill="#CCEA3A"/>
<rect x="630.64" y="33.71" width="18.22" height="9.07" fill="#E8FC3A"/>
<rect x="648.86" y="33.71" width="18.22" height="9.07" fill="#CCEA3A"/>
<rect x="667.08" y="33.71" width="18.22" height="9.07" fill="#CCEA3A"/>
<rect x="685.30" y="33.71" width="18.22" height="9.07" fill="#E8FC3A"/>
<rect x="594.20" y="42.78" width="18.22" height="9.07" fill="#FFFFFF"/>
<rect x="612.42" y="42.78" width="18.22" height="9.07" fill="#FFFFFF"/>
<rect x="630.64" y="42.78" width="18.22" height="9.07" fill="#A0D030"/>
<rect x="648.86" y="42.78" width="18.22" height="9.07" fill="#46963A"/>
<rect x="667.08" y="42.78" width="18.22" height="9.07" fill="#A0D030"/>
<rect x="685.30" y="42.78" width="18.22" height="9.07" fill="#A0D030"/>
<rect x="594.20" y="51.85" width="18.22" height="9.07" fill="#FFFFFF"/>
<rect x="612.42" y="51.85" width="18.22" height="9.07" fill="#FFFFFF"/>
<rect x="630.64" y="51.85" width="18.22" height="9.07" fill="#6EB232"/>
<rect x="648.86" y="51.85" width="18.22" height="9.07" fill="#88C238"/>
<rect x="667.08" y="51.85" width="18.22" height="9.07" fill="#E8FC3A"/>
<rect x="685.30" y="51.85" width="18.22" height="9.07" fill="#CCEA3A"/>
<rect x="594.20" y="60.92" width="18.22" height="9.07" fill="#FFFFFF"/>
<rect x="612.42" y="60.92" width="18.22" height="9.07" fill="#FFFFFF"/>
<rect x="630.64" y="60.92" width="18.22" height="9.07" fill="#A0D030"/>
<rect x="648.86" y="60.92" width="18.22" height="9.07" fill="#46963A"/>
<rect x="667.08" y="60.92" width="18.22" height="9.07" fill="#E8FC3A"/>
<rect x="685.30" y="60.92" width="18.22" height="9.07" fill="#E8FC3A"/>
<rect x="594.20" y="69.99" width="18.22" height="9.07" fill="#FFFFFF"/>
<rect x="612.42" y="69.99" width="18.22" height="9.07" fill="#FFFFFF"/>
<rect x="630.64" y="69.99" width="18.22" height="9.07" fill="#E8FC3A"/>
<rect x="648.86" y="69.99" width="18.22" height="9.07" fill="#E8FC3A"/>
<rect x="667.08" y="69.99" width="18.22" height="9.07" fill="#CCEA3A"/>
<rect x="685.30" y="69.99" width="18.22" height="9.07" fill="#CCEA3A"/>
<rect x="594.20" y="79.06" width="18.22" height="9.07" fill="#E8FC3A"/>
<rect x="612.42" y="79.06" width="18.22" height="9.07" fill="#E8FC3A"/>
<rect x="630.64" y="79.06" width="18.22" height="9.07" fill="#A0D030"/>
<rect x="648.86" y="79.06" width="18.22" height="9.07" fill="#46963A"/>
<rect x="667.08" y="79.06" width="18.22" height="9.07" fill="#A0D030"/>
<rect x="685.30" y="79.06" width="18.22" height="9.07" fill="#A0D030"/>
<rect x="594.20" y="88.13" width="18.22" height="9.07" fill="#E8FC3A"/>
<rect x="612.42" y="88.13" width="18.22" height="9.07" fill="#B6DC36"/>
<rect x="630.64" y="88.13" width="18.22" height="9.07" fill="#6EB232"/>
<rect x="648.86" y="88.13" width="18.22" height="9.07" fill="#88C238"/>
<rect x="667.08" y="88.13" width="18.22" height="9.07" fill="#E8FC3A"/>
<rect x="685.30" y="88.13" width="18.22" height="9.07" fill="#CCEA3A"/>
<rect x="594.20" y="97.20" width="18.22" height="9.07" fill="#E8FC3A"/>
<rect x="612.42" y="97.20" width="18.22" height="9.07" fill="#CCEA3A"/>
<rect x="630.64" y="97.20" width="18.22" height="9.07" fill="#A0D030"/>
<rect x="648.86" y="97.20" width="18.22" height="9.07" fill="#46963A"/>
<rect x="667.08" y="97.20" width="18.22" height="9.07" fill="#E8FC3A"/>
<rect x="685.30" y="97.20" width="18.22" height="9.07" fill="#E8FC3A"/>
<rect x="594.20" y="106.27" width="18.22" height="9.07" fill="#DEC430"/>
<rect x="612.42" y="106.27" width="18.22" height="9.07" fill="#CCEA3A"/>
<rect x="630.64" y="106.27" width="18.22" height="9.07" fill="#E8FC3A"/>
<rect x="648.86" y="106.27" width="18.22" height="9.07" fill="#E6DA3A"/>
<rect x="667.08" y="106.27" width="18.22" height="9.07" fill="#CCEA3A"/>
<rect x="685.30" y="106.27" width="18.22" height="9.07" fill="#E8FC3A"/>
<rect x="594.20" y="115.34" width="18.22" height="9.07" fill="#DEC430"/>
<rect x="612.42" y="115.34" width="18.22" height="9.07" fill="#E8FC3A"/>
<rect x="630.64" y="115.34" width="18.22" height="9.07" fill="#FFFFFF"/>
<rect x="648.86" y="115.34" width="18.22" height="9.07" fill="#FFFFFF"/>
<rect x="667.08" y="115.34" width="18.22" height="9.07" fill="#FFFFFF"/>
<rect x="685.30" y="115.34" width="18.22" height="9.07" fill="#FFFFFF"/>
<rect x="594.20" y="124.41" width="18.22" height="9.07" fill="#E6DA3A"/>
<rect x="612.42" y="124.41" width="18.22" height="9.07" fill="#CCEA3A"/>
<rect x="630.64" y="124.41" width="18.22" height="9.07" fill="#FFFFFF"/>
<rect x="648.86" y="124.41" width="18.22" height="9.07" fill="#FFFFFF"/>
<rect x="667.08" y="124.41" width="18.22" height="9.07" fill="#FFFFFF"/>
<rect x="685.30" y="124.41" width="18.22" height="9.07" fill="#FFFFFF"/>
<rect x="594.20" y="133.48" width="18.22" height="9.07" fill="#E4A436"/>
<rect x="612.42" y="133.48" width="18.22" height="9.07" fill="#E8FC3A"/>
<rect x="630.64" y="133.48" width="18.22" height="9.07" fill="#FFFFFF"/>
<rect x="648.86" y="133.48" width="18.22" height="9.07" fill="#FFFFFF"/>
<rect x="667.08" y="133.48" width="18.22" height="9.07" fill="#FFFFFF"/>
<rect x="685.30" y="133.48" width="18.22" height="9.07" fill="#FFFFFF"/>
<rect x="594.20" y="142.55" width="18.22" height="9.07" fill="#E88C32"/>
<rect x="612.42" y="142.55" width="18.22" height="9.07" fill="#E8FC3A"/>
<rect x="630.64" y="142.55" width="18.22" height="9.07" fill="#FFFFFF"/>
<rect x="648.86" y="142.55" width="18.22" height="9.07" fill="#FFFFFF"/>
<rect x="667.08" y="142.55" width="18.22" height="9.07" fill="#FFFFFF"/>
<rect x="685.30" y="142.55" width="18.22" height="9.07" fill="#FFFFFF"/>
<rect x="594.20" y="151.62" width="18.22" height="9.07" fill="#DEC430"/>
<rect x="612.42" y="151.62" width="18.22" height="9.07" fill="#E8FC3A"/>
<rect x="630.64" y="151.62" width="18.22" height="9.07" fill="#FFFFFF"/>
<rect x="648.86" y="151.62" width="18.22" height="9.07" fill="#FFFFFF"/>
<rect x="667.08" y="151.62" width="18.22" height="9.07" fill="#FFFFFF"/>
<rect x="685.30" y="151.62" width="18.22" height="9.07" fill="#FFFFFF"/>
<rect x="594.20" y="160.69" width="18.22" height="9.07" fill="#E6DA3A"/>
<rect x="612.42" y="160.69" width="18.22" height="9.07" fill="#E8FC3A"/>
<rect x="630.64" y="160.69" width="18.22" height="9.07" fill="#FFFFFF"/>
<rect x="648.86" y="160.69" width="18.22" height="9.07" fill="#FFFFFF"/>
<rect x="667.08" y="160.69" width="18.22" height="9.07" fill="#FFFFFF"/>
<rect x="685.30" y="160.69" width="18.22" height="9.07" fill="#FFFFFF"/>
<rect x="594.20" y="169.76" width="18.22" height="9.07" fill="#E88C32"/>
<rect x="612.42" y="169.76" width="18.22" height="9.07" fill="#DEC430"/>
<rect x="630.64" y="169.76" width="18.22" height="9.07" fill="#FFFFFF"/>
<rect x="648.86" y="169.76" width="18.22" height="9.07" fill="#FFFFFF"/>
<rect x="667.08" y="169.76" width="18.22" height="9.07" fill="#FFFFFF"/>
<rect x="685.30" y="169.76" width="18.22" height="9.07" fill="#FFFFFF"/>
<rect x="594.20" y="178.83" width="18.22" height="9.07" fill="#E88C32"/>
<rect x="612.42" y="178.83" width="18.22" height="9.07" fill="#DEC430"/>
<rect x="630.64" y="178.83" width="18.22" height="9.07" fill="#FFFFFF"/>
<rect x="648.86" y="178.83" width="18.22" height="9.07" fill="#FFFFFF"/>
<rect x="667.08" y="178.83" width="18.22" height="9.07" fill="#FFFFFF"/>
<rect x="685.30" y="178.83" width="18.22" height="9.07" fill="#FFFFFF"/>
<rect x="594.20" y="187.90" width="18.22" height="9.07" fill="#DEC430"/>
<rect x="612.42" y="187.90" width="18.22" height="9.07" fill="#E8FC3A"/>
<rect x="630.64" y="187.90" width="18.22" height="9.07" fill="#FFFFFF"/>
<rect x="648.86" y="187.90" width="18.22" height="9.07" fill="#FFFFFF"/>
<rect x="667.08" y="187.90" width="18.22" height="9.07" fill="#FFFFFF"/>
<rect x="685.30" y="187.90" width="18.22" height="9.07" fill="#FFFFFF"/>
<rect x="594.20" y="196.97" width="18.22" height="9.07" fill="#DEC430"/>
<rect x="612.42" y="196.97" width="18.22" height="9.07" fill="#E8FC3A"/>
<rect x="630.64" y="196.97" width="18.22" height="9.07" fill="#FFFFFF"/>
<rect x="648.86" y="196.97" width="18.22" height="9.07" fill="#FFFFFF"/>
<rect x="667.08" y="196.97" width="18.22" height="9.07" fill="#FFFFFF"/>
<rect x="685.30" y="196.97" width="18.22" height="9.07" fill="#FFFFFF"/>
<rect x="594.20" y="206.04" width="18.22" height="9.07" fill="#E88C32"/>
<rect x="612.42" y="206.04" width="18.22" height="9.07" fill="#DEC430"/>
<rect x="630.64" y="206.04" width="18.22" height="9.07" fill="#FFFFFF"/>
<rect x="648.86" y="206.04" width="18.22" height="9.07" fill="#FFFFFF"/>
<rect x="667.08" y="206.04" width="18.22" height="9.07" fill="#FFFFFF"/>
<rect x="685.30" y="206.04" width="18.22" height="9.07" fill="#FFFFFF"/>
<rect x="594.20" y="215.11" width="18.22" height="9.07" fill="#E4A436"/>
<rect x="612.42" y="215.11" width="18.22" height="9.07" fill="#DEC430"/>
<rect x="630.64" y="215.11" width="18.22" height="9.07" fill="#FFFFFF"/>
<rect x="648.86" y="215.11" width="18.22" height="9.07" fill="#FFFFFF"/>
<rect x="667.08" y="215.11" width="18.22" height="9.07" fill="#FFFFFF"/>
<rect x="685.30" y="215.11" width="18.22" height="9.07" fill="#FFFFFF"/>
<rect x="594.20" y="224.18" width="18.22" height="9.07" fill="#DEC430"/>
<rect x="612.42" y="224.18" width="18.22" height="9.07" fill="#E8FC3A"/>
<rect x="630.64" y="224.18" width="18.22" height="9.07" fill="#FFFFFF"/>
<rect x="648.86" y="224.18" width="18.22" height="9.07" fill="#FFFFFF"/>
<rect x="667.08" y="224.18" width="18.22" height="9.07" fill="#FFFFFF"/>
<rect x="685.30" y="224.18" width="18.22" height="9.07" fill="#FFFFFF"/>
<rect x="594.20" y="233.25" width="18.22" height="9.07" fill="#DEC430"/>
<rect x="612.42" y="233.25" width="18.22" height="9.07" fill="#E8FC3A"/>
<rect x="630.64" y="233.25" width="18.22" height="9.07" fill="#FFFFFF"/>
<rect x="648.86" y="233.25" width="18.22" height="9.07" fill="#FFFFFF"/>
<rect x="667.08" y="233.25" width="18.22" height="9.07" fill="#FFFFFF"/>
<rect x="685.30" y="233.25" width="18.22" height="9.07" fill="#FFFFFF"/>
<rect x="594.20" y="242.32" width="18.22" height="9.07" fill="#E88C32"/>
<rect x="612.42" y="242.32" width="18.22" height="9.07" fill="#E6DA3A"/>
<rect x="630.64" y="242.32" width="18.22" height="9.07" fill="#FFFFFF"/>
<rect x="648.86" y="242.32" width="18.22" height="9.07" fill="#FFFFFF"/>
<rect x="667.08" y="242.32" width="18.22" height="9.07" fill="#FFFFFF"/>
<rect x="685.30" y="242.32" width="18.22" height="9.07" fill="#FFFFFF"/>
<rect x="594.20" y="251.39" width="18.22" height="9.07" fill="#E88C32"/>
<rect x="612.42" y="251.39" width="18.22" height="9.07" fill="#E8FC3A"/>
<rect x="630.64" y="251.39" width="18.22" height="9.07" fill="#FFFFFF"/>
<rect x="648.86" y="251.39" width="18.22" height="9.07" fill="#FFFFFF"/>
<rect x="667.08" y="251.39" width="18.22" height="9.07" fill="#FFFFFF"/>
<rect x="685.30" y="251.39" width="18.22" height="9.07" fill="#FFFFFF"/>
<rect x="594.20" y="260.46" width="18.22" height="9.07" fill="#FFFFFF"/>
<rect x="612.42" y="260.46" width="18.22" height="9.07" fill="#FFFFFF"/>
<rect x="630.64" y="260.46" width="18.22" height="9.07" fill="#A0D030"/>
<rect x="648.86" y="260.46" width="18.22" height="9.07" fill="#46963A"/>
<rect x="667.08" y="260.46" width="18.22" height="9.07" fill="#A0D030"/>
<rect x="685.30" y="260.46" width="18.22" height="9.07" fill="#A0D030"/>
<rect x="594.20" y="269.53" width="18.22" height="9.07" fill="#FFFFFF"/>
<rect x="612.42" y="269.53" width="18.22" height="9.07" fill="#FFFFFF"/>
<rect x="630.64" y="269.53" width="18.22" height="9.07" fill="#6EB232"/>
<rect x="648.86" y="269.53" width="18.22" height="9.07" fill="#88C238"/>
<rect x="667.08" y="269.53" width="18.22" height="9.07" fill="#E8FC3A"/>
<rect x="685.30" y="269.53" width="18.22" height="9.07" fill="#CCEA3A"/>
<rect x="594.20" y="278.60" width="18.22" height="9.07" fill="#FFFFFF"/>
<rect x="612.42" y="278.60" width="18.22" height="9.07" fill="#FFFFFF"/>
<rect x="630.64" y="278.60" width="18.22" height="9.07" fill="#A0D030"/>
<rect x="648.86" y="278.60" width="18.22" height="9.07" fill="#46963A"/>
<rect x="667.08" y="278.60" width="18.22" height="9.07" fill="#E8FC3A"/>
<rect x="685.30" y="278.60" width="18.22" height="9.07" fill="#E8FC3A"/>
<rect x="594.20" y="287.67" width="18.22" height="9.07" fill="#FFFFFF"/>
<rect x="612.42" y="287.67" width="18.22" height="9.07" fill="#FFFFFF"/>
<rect x="630.64" y="287.67" width="18.22" height="9.07" fill="#E8FC3A"/>
<rect x="648.86" y="287.67" width="18.22" height="9.07" fill="#E8FC3A"/>
<rect x="667.08" y="287.67" width="18.22" height="9.07" fill="#CCEA3A"/>
<rect x="685.30" y="287.67" width="18.22" height="9.07" fill="#D8F03A"/>
<line x1="594.2" y1="6.5" x2="594.2" y2="296.74" stroke="#222" stroke-width="0.9"/>
<line x1="612.4200000000001" y1="6.5" x2="612.4200000000001" y2="296.74" stroke="#222" stroke-width="0.9"/>
<line x1="630.6400000000001" y1="6.5" x2="630.6400000000001" y2="296.74" stroke="#222" stroke-width="0.9"/>
<line x1="648.86" y1="6.5" x2="648.86" y2="296.74" stroke="#222" stroke-width="0.9"/>
<line x1="667.08" y1="6.5" x2="667.08" y2="296.74" stroke="#222" stroke-width="0.9"/>
<line x1="685.3000000000001" y1="6.5" x2="685.3000000000001" y2="296.74" stroke="#222" stroke-width="0.9"/>
<line x1="703.52" y1="6.5" x2="703.52" y2="296.74" stroke="#222" stroke-width="0.9"/>
<line x1="594.2" y1="6.5" x2="703.52" y2="6.5" stroke="#222" stroke-width="0.9"/>
<line x1="594.2" y1="15.57" x2="703.52" y2="15.57" stroke="#222" stroke-width="0.9"/>
<line x1="594.2" y1="24.64" x2="703.52" y2="24.64" stroke="#222" stroke-width="0.9"/>
<line x1="594.2" y1="33.71" x2="703.52" y2="33.71" stroke="#222" stroke-width="0.9"/>
<line x1="594.2" y1="42.78" x2="703.52" y2="42.78" stroke="#222" stroke-width="0.9"/>
<line x1="594.2" y1="51.85" x2="703.52" y2="51.85" stroke="#222" stroke-width="0.9"/>
<line x1="594.2" y1="60.92" x2="703.52" y2="60.92" stroke="#222" stroke-width="0.9"/>
<line x1="594.2" y1="69.99000000000001" x2="703.52" y2="69.99000000000001" stroke="#222" stroke-width="0.9"/>
<line x1="594.2" y1="79.06" x2="703.52" y2="79.06" stroke="#222" stroke-width="0.9"/>
<line x1="594.2" y1="88.13" x2="703.52" y2="88.13" stroke="#222" stroke-width="0.9"/>
<line x1="594.2" y1="97.2" x2="703.52" y2="97.2" stroke="#222" stroke-width="0.9"/>
<line x1="594.2" y1="106.27000000000001" x2="703.52" y2="106.27000000000001" stroke="#222" stroke-width="0.9"/>
<line x1="594.2" y1="115.34" x2="703.52" y2="115.34" stroke="#222" stroke-width="0.9"/>
<line x1="594.2" y1="124.41" x2="703.52" y2="124.41" stroke="#222" stroke-width="0.9"/>
<line x1="594.2" y1="133.48000000000002" x2="703.52" y2="133.48000000000002" stroke="#222" stroke-width="0.9"/>
<line x1="594.2" y1="142.55" x2="703.52" y2="142.55" stroke="#222" stroke-width="0.9"/>
<line x1="594.2" y1="151.62" x2="703.52" y2="151.62" stroke="#222" stroke-width="0.9"/>
<line x1="594.2" y1="160.69" x2="703.52" y2="160.69" stroke="#222" stroke-width="0.9"/>
<line x1="594.2" y1="169.76" x2="703.52" y2="169.76" stroke="#222" stroke-width="0.9"/>
<line x1="594.2" y1="178.83" x2="703.52" y2="178.83" stroke="#222" stroke-width="0.9"/>
<line x1="594.2" y1="187.9" x2="703.52" y2="187.9" stroke="#222" stroke-width="0.9"/>
<line x1="594.2" y1="196.97" x2="703.52" y2="196.97" stroke="#222" stroke-width="0.9"/>
<line x1="594.2" y1="206.04000000000002" x2="703.52" y2="206.04000000000002" stroke="#222" stroke-width="0.9"/>
<line x1="594.2" y1="215.11" x2="703.52" y2="215.11" stroke="#222" stroke-width="0.9"/>
<line x1="594.2" y1="224.18" x2="703.52" y2="224.18" stroke="#222" stroke-width="0.9"/>
<line x1="594.2" y1="233.25" x2="703.52" y2="233.25" stroke="#222" stroke-width="0.9"/>
<line x1="594.2" y1="242.32" x2="703.52" y2="242.32" stroke="#222" stroke-width="0.9"/>
<line x1="594.2" y1="251.39000000000001" x2="703.52" y2="251.39000000000001" stroke="#222" stroke-width="0.9"/>
<line x1="594.2" y1="260.46000000000004" x2="703.52" y2="260.46000000000004" stroke="#222" stroke-width="0.9"/>
<line x1="594.2" y1="269.53000000000003" x2="703.52" y2="269.53000000000003" stroke="#222" stroke-width="0.9"/>
<line x1="594.2" y1="278.6" x2="703.52" y2="278.6" stroke="#222" stroke-width="0.9"/>
<line x1="594.2" y1="287.67" x2="703.52" y2="287.67" stroke="#222" stroke-width="0.9"/>
<line x1="594.2" y1="296.74" x2="703.52" y2="296.74" stroke="#222" stroke-width="0.9"/>
<circle cx="602.91" cy="28.88" r="0.85" fill="#111"/>
<circle cx="657.57" cy="47.02" r="0.85" fill="#111"/>
<rect x="693.71" y="45.91" width="1.4" height="2.8" rx="0.5" fill="#1a2a10" opacity="0.85"/>
<circle cx="639.35" cy="56.09" r="0.85" fill="#111"/>
<circle cx="657.57" cy="56.09" r="0.85" fill="#111"/>
<circle cx="657.57" cy="65.16" r="0.85" fill="#111"/>
<circle cx="657.57" cy="83.30" r="0.85" fill="#111"/>
<rect x="693.71" y="82.19" width="1.4" height="2.8" rx="0.5" fill="#1a2a10" opacity="0.85"/>
<circle cx="639.35" cy="92.36" r="0.85" fill="#111"/>
<circle cx="657.57" cy="92.36" r="0.85" fill="#111"/>
<circle cx="657.57" cy="101.44" r="0.85" fill="#111"/>
<rect x="602.61" y="136.62" width="1.4" height="2.8" rx="0.5" fill="#1a2a10" opacity="0.85"/>
<circle cx="602.91" cy="146.78" r="0.85" fill="#111"/>
<circle cx="602.91" cy="173.99" r="0.85" fill="#111"/>
<rect x="602.61" y="181.97" width="1.4" height="2.8" rx="0.5" fill="#1a2a10" opacity="0.85"/>
<circle cx="602.91" cy="210.28" r="0.85" fill="#111"/>
<rect x="602.61" y="218.25" width="1.4" height="2.8" rx="0.5" fill="#1a2a10" opacity="0.85"/>
<circle cx="602.91" cy="246.55" r="0.85" fill="#111"/>
<circle cx="602.91" cy="255.62" r="0.85" fill="#111"/>
<circle cx="657.57" cy="264.70" r="0.85" fill="#111"/>
<rect x="693.71" y="263.60" width="1.4" height="2.8" rx="0.5" fill="#1a2a10" opacity="0.85"/>
<circle cx="639.35" cy="273.77" r="0.85" fill="#111"/>
<circle cx="657.57" cy="273.77" r="0.85" fill="#111"/>
<circle cx="657.57" cy="282.84" r="0.85" fill="#111"/>
<text x="600.4" y="312.5" font-size="5.3" text-anchor="start" fill="#111" stroke="#111" stroke-width="0.22" transform="rotate(-45 600.4 312.5)">Male</text>
<text x="612.6" y="312.5" font-size="5.6" text-anchor="start" fill="#111" stroke="#111" stroke-width="0.22" transform="rotate(-45 612.6 312.5)">Female</text>
<text x="636.3" y="312.5" font-size="5.3" text-anchor="start" fill="#111" stroke="#111" stroke-width="0.22" transform="rotate(-45 636.3 312.5)">Male</text>
<text x="648.5" y="312.5" font-size="5.6" text-anchor="start" fill="#111" stroke="#111" stroke-width="0.22" transform="rotate(-45 648.5 312.5)">Female</text>
<text x="673" y="312.5" font-size="5.3" text-anchor="start" fill="#111" stroke="#111" stroke-width="0.22" transform="rotate(-45 673 312.5)">Male</text>
<text x="685.2" y="312.5" font-size="5.6" text-anchor="start" fill="#111" stroke="#111" stroke-width="0.22" transform="rotate(-45 685.2 312.5)">Female</text>
<line x1="603" y1="316.5" x2="619" y2="316.5" stroke="#333" stroke-width="0.8"/>
<line x1="638.9" y1="316.5" x2="654.4" y2="316.5" stroke="#333" stroke-width="0.8"/>
<line x1="673.2" y1="316.5" x2="688.7" y2="316.5" stroke="#333" stroke-width="0.8"/>
<text x="610.4" y="323" font-size="5.5" text-anchor="middle" fill="#111" stroke="#111" stroke-width="0.22">Cohort_AF</text>
<text x="646.1" y="323" font-size="5.5" text-anchor="middle" fill="#111" stroke="#111" stroke-width="0.22">Cohort_EU1</text>
<text x="647.9" y="329.3" font-size="5.5" text-anchor="middle" fill="#111" stroke="#111" stroke-width="0.22">(PBMC)</text>
<text x="682.2" y="323" font-size="5.5" text-anchor="middle" fill="#111" stroke="#111" stroke-width="0.22">Cohort_EU1</text>
<text x="682.4" y="329.3" font-size="5.5" text-anchor="middle" fill="#111" stroke="#111" stroke-width="0.22">(WB)</text>
<text x="471.2" y="309" font-size="6.4" text-anchor="start" fill="#111" stroke="#111" stroke-width="0.22">Spearman correlation</text>
<defs><linearGradient id="lg" x1="0" x2="1" y1="0" y2="0"><stop offset="0" stop-color="#E0301E"/><stop offset="0.25" stop-color="#EC9A2A"/><stop offset="0.5" stop-color="#F0F032"/><stop offset="0.75" stop-color="#8CC630"/><stop offset="1" stop-color="#1E7A30"/></linearGradient></defs>
<rect x="472.3" y="312.7" width="53.6" height="3.1" fill="url(#lg)"/>
<text x="477.70000000000005" y="320.9" font-size="4.9" text-anchor="middle" fill="#111" stroke="#111" stroke-width="0.3" transform="rotate(-90 477.70000000000005 320.9)">0.4</text>
<text x="489.6" y="320.9" font-size="4.9" text-anchor="middle" fill="#111" stroke="#111" stroke-width="0.3" transform="rotate(-90 489.6 320.9)">0.2</text>
<text x="500.6" y="320.9" font-size="4.9" text-anchor="middle" fill="#111" stroke="#111" stroke-width="0.3" transform="rotate(-90 500.6 320.9)">0</text>
<text x="511.70000000000005" y="320.9" font-size="4.9" text-anchor="middle" fill="#111" stroke="#111" stroke-width="0.3" transform="rotate(-90 511.70000000000005 320.9)">-0.2</text>
<text x="522.0" y="320.9" font-size="4.9" text-anchor="middle" fill="#111" stroke="#111" stroke-width="0.3" transform="rotate(-90 522.0 320.9)">-0.4</text>
</svg></body></html>
